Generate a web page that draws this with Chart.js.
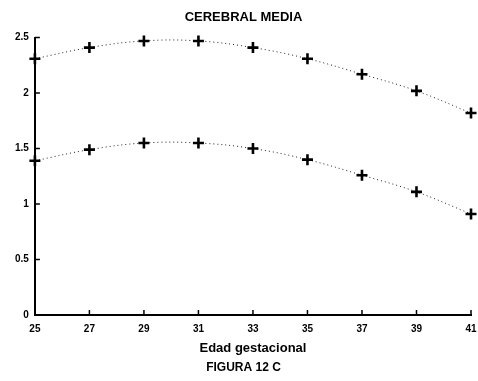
<!DOCTYPE html>
<html>
<head>
<meta charset="utf-8">
<script src="https://cdn.jsdelivr.net/npm/chart.js@4/dist/chart.umd.min.js"></script>
<style>
  html, body { margin: 0; padding: 0; background: #fff; }
  #wrap { width: 478px; height: 381px; }
</style>
</head>
<body>
<div id="wrap"><canvas id="c" width="478" height="381"></canvas></div>
<script>
// Gestational age (weeks)
const weeks = [25, 27, 29, 31, 33, 35, 37, 39, 41];
// Upper curve
const upperValues = [2.31, 2.41, 2.47, 2.47, 2.41, 2.31, 2.17, 2.02, 1.82];
// Lower curve
const lowerValues = [1.39, 1.49, 1.55, 1.55, 1.50, 1.40, 1.26, 1.11, 0.91];
// Y tick labels
const yTickLabels = { 0: '0', 0.5: '0.5', 1: '1', 1.5: '1.5', 2: '2', 2.5: '2.5' };

const toPoints = vals => weeks.map((w, i) => ({ x: w, y: vals[i] }));

const FONT = "'Liberation Sans', Arial, sans-serif";

// Small tick marks drawn inward from the axes
const innerTicks = {
  id: 'innerTicks',
  afterDraw(chart) {
    const ctx = chart.ctx;
    const xs = chart.scales.x, ys = chart.scales.y;
    const area = chart.chartArea;
    ctx.save();
    ctx.strokeStyle = '#000';
    ctx.lineWidth = 1.5;
    ctx.beginPath();
    xs.ticks.forEach(t => {
      const px = xs.getPixelForValue(t.value);
      ctx.moveTo(px, area.bottom);
      ctx.lineTo(px, area.bottom - 5);
    });
    ys.ticks.forEach(t => {
      const py = ys.getPixelForValue(t.value);
      ctx.moveTo(area.left, py);
      ctx.lineTo(area.left + 5, py);
    });
    ctx.stroke();
    ctx.restore();
  }
};

const lineStyle = {
  borderColor: '#222',
  borderWidth: 1,
  borderDash: [1, 3],
  tension: 0.4,
  pointStyle: 'cross',
  pointRadius: 5.5,
  pointBorderWidth: 2.6,
  pointBorderColor: '#000',
  pointBackgroundColor: '#000',
  fill: false,
  clip: false
};

new Chart(document.getElementById('c'), {
  type: 'line',
  data: {
    datasets: [
      Object.assign({ data: toPoints(upperValues) }, lineStyle),
      Object.assign({ data: toPoints(lowerValues) }, lineStyle)
    ]
  },
  plugins: [innerTicks],
  options: {
    responsive: false,
    animation: false,
    layout: { autoPadding: false, padding: { left: 9, right: 0, top: 6, bottom: 2 } },
    plugins: {
      legend: { display: false },
      tooltip: { enabled: false },
      title: {
        display: true,
        text: 'CEREBRAL MEDIA',
        color: '#000',
        font: { family: FONT, size: 13, weight: 'bold' },
        padding: { top: 4, bottom: 12 }
      },
      subtitle: {
        display: true,
        position: 'bottom',
        text: 'FIGURA 12 C',
        color: '#000',
        font: { family: FONT, size: 12, weight: 'bold' },
        padding: { top: 2, bottom: 4 }
      }
    },
    scales: {
      x: {
        type: 'linear',
        min: 25,
        max: 41,
        afterFit: scale => { scale.paddingRight = 7; },
        ticks: {
          stepSize: 2,
          color: '#000',
          font: { family: FONT, size: 10, weight: 'bold' },
          padding: 8,
          maxRotation: 0,
          autoSkip: false
        },
        grid: { display: true, drawOnChartArea: false, drawTicks: false },
        border: { display: true, color: '#000', width: 2 },
        title: {
          display: true,
          text: 'Edad gestacional',
          color: '#000',
          font: { family: FONT, size: 13, weight: 'bold' },
          padding: { top: -2, bottom: 2 }
        }
      },
      y: {
        min: 0,
        max: 2.5,
        ticks: {
          stepSize: 0.5,
          color: '#000',
          font: { family: FONT, size: 10, weight: 'bold' },
          padding: 6,
          callback: v => yTickLabels[v] !== undefined ? yTickLabels[v] : ''
        },
        grid: { display: true, drawOnChartArea: false, drawTicks: false },
        border: { display: true, color: '#000', width: 2 }
      }
    }
  }
});
</script>
</body>
</html>
